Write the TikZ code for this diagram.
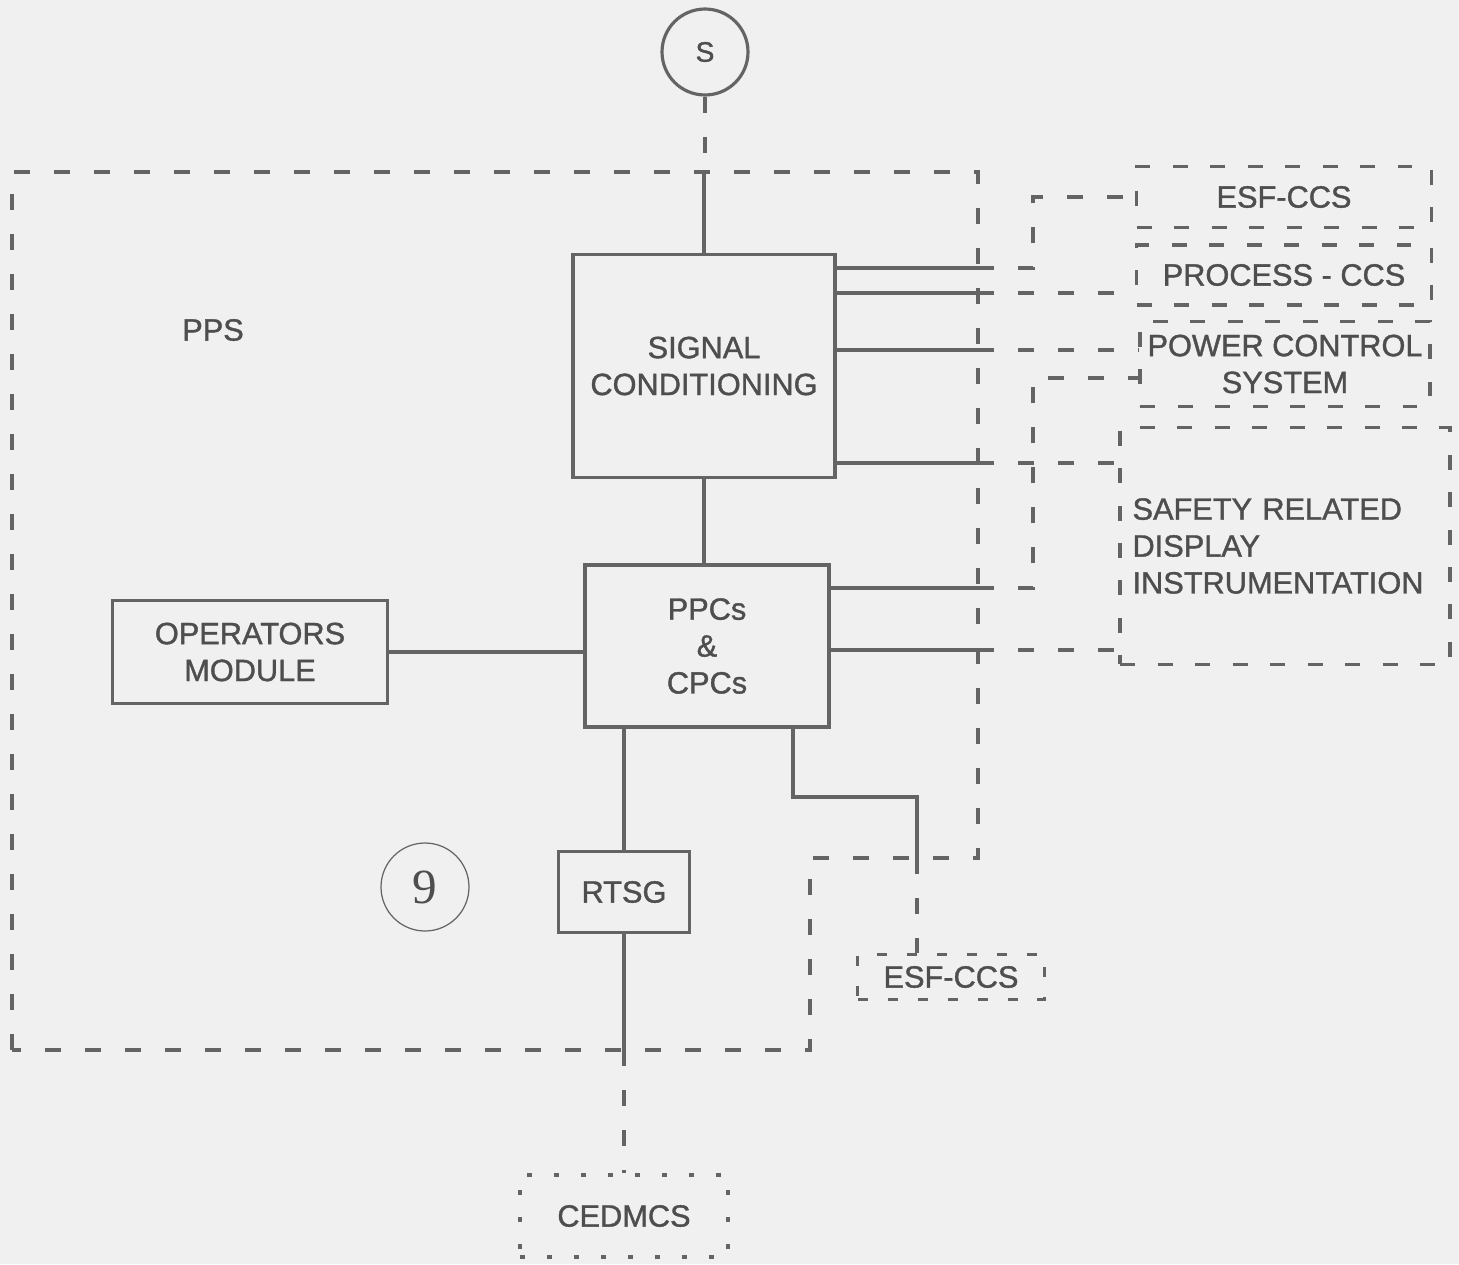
\documentclass[tikz,border=0pt]{standalone}
\usepackage{fontspec}
\setmainfont{Liberation Sans}[BoldFont={Liberation Sans}, BoldFeatures={FakeBold=1.2}]
\newfontfamily\ninefont{Liberation Serif}
\definecolor{bg}{RGB}{240,240,240}
\definecolor{ink}{RGB}{100,100,100}
\definecolor{txt}{RGB}{78,78,78}
\begin{document}
\begin{tikzpicture}[x=0.02cm,y=-0.02cm,
  lbl/.style={text=txt, align=center, font=\bfseries\fontsize{17.5}{21}\selectfont, inner sep=0pt},
  sbox/.style={lbl, draw=ink, line width=2.2pt},
  dbox/.style={lbl, draw=ink, line width=1.8pt, dash pattern=on 0.3cm off 0.45cm},
  dboxs/.style={lbl, draw=ink, line width=1.8pt, dash pattern=on 0.2cm off 0.4cm},
  dotbox/.style={lbl, draw=ink, line width=2pt, dash pattern=on 0.1cm off 0.44cm},
  conn/.style={draw=ink, line width=1.8pt},
  dconn/.style={conn, dash pattern=on 0.32cm off 0.48cm},
  ppsd/.style={draw=ink, line width=1.8pt, dash pattern=on 0.32cm off 0.48cm}
]
\fill[bg] (0,0) rectangle (1459,1264);
\useasboundingbox (0,0) rectangle (1459,1264);

% PPS boundary
\coordinate (p1) at (12,172);
\coordinate (p2) at (978,172);
\coordinate (p3) at (978,858);
\coordinate (p4) at (810,858);
\coordinate (p5) at (810,1050);
\coordinate (p6) at (12,1050);
\draw[ppsd] (p6) -- (p1) -- (p2) -- (p3) -- (p4) -- (p5) -- cycle;
\node[lbl] (pps) at (213,330) {PPS};

% nodes
\node[circle, draw=ink, line width=1.8pt, minimum size=1.72cm, inner sep=0pt, text=txt, font=\bfseries\fontsize{16}{18}\selectfont] (s) at (705,52) {S};
\node[sbox, minimum width=5.24cm, minimum height=4.46cm] (sc) at (704,366) {SIGNAL\\CONDITIONING};
\node[sbox, minimum width=4.88cm, minimum height=3.24cm] (ppc) at (707,646) {PPCs\\\&\\CPCs};
\node[sbox, minimum width=5.5cm, minimum height=2.06cm] (op) at (250,652) {OPERATORS\\MODULE};
\node[sbox, minimum width=2.62cm, minimum height=1.62cm] (rtsg) at (624,892) {RTSG};
\node[dotbox, minimum width=4.16cm, minimum height=1.64cm] (cedm) at (624,1216) {CEDMCS};
\node[dboxs, minimum width=3.74cm, minimum height=0.9cm] (esfb) at (951,977) {ESF-CCS};
\node[dbox, minimum width=5.9cm, minimum height=1.22cm] (esft) at (1284,197) {ESF-CCS};
\node[dbox, minimum width=5.9cm, minimum height=1.2cm] (proc) at (1284,275) {PROCESS - CCS};
\node[dbox, minimum width=5.8cm, minimum height=1.7cm] (pcs) at (1285,364) {POWER CONTROL\\SYSTEM};
\node[dbox, minimum width=6.6cm, minimum height=4.74cm, text width=6.1cm, align=left] (srd) at (1285,546) {SAFETY RELATED\\DISPLAY\\INSTRUMENTATION};
\node[circle, draw=ink, line width=0.7pt, minimum size=1.76cm, inner sep=0pt, text=txt, font=\ninefont\fontsize{28}{30}\selectfont] (nine) at (425,887) {9};

% vertical spine
\draw[dconn] (s.south) -- (s.south |- p1);
\draw[conn] (sc.north |- p1) -- (sc.north);
\draw[conn] (sc.south) -- (sc.south |- ppc.north);
\draw[conn] (op.east) -- (ppc.west |- op.east);
\draw[conn] (rtsg.north |- ppc.south) -- (rtsg.north);
\draw[conn] (rtsg.south) -- (rtsg.south |- p6);
\draw[dconn] (rtsg.south |- p6) -- (cedm.north);

% PPCs to lower ESF-CCS
\coordinate (k1) at (793,797);
\coordinate (k2) at (917,797);
\coordinate (k3) at (917,858);
\draw[conn] (ppc.south -| k1) -- (k1) -- (k2) -- (k3);
\draw[dconn] (k3) -- (esfb.north -| k3);

% right side connections
\coordinate (r1) at (978,268);
\coordinate (r2) at (978,293);
\coordinate (r3) at (978,350);
\coordinate (r4) at (978,463);
\coordinate (r5) at (978,588);
\coordinate (r6) at (978,650);
\coordinate (v1) at (1033,268);
\coordinate (v5) at (1033,588);
\coordinate (w5) at (1033,378);

\draw[conn] (sc.east |- r1) -- (r1);
\draw[dconn] (r1) -- (v1) -- (v1 |- esft.west) -- (esft.west);
\draw[conn] (sc.east |- r2) -- (r2);
\draw[dconn] (r2) -- (proc.west |- r2);
\draw[conn] (sc.east |- r3) -- (r3);
\draw[dconn] (r3) -- (pcs.west |- r3);
\draw[conn] (sc.east |- r4) -- (r4);
\draw[dconn] (r4) -- (srd.west |- r4);
\draw[conn] (ppc.east |- r5) -- (r5);
\draw[dconn] (r5) -- (v5) -- (w5) -- (pcs.west |- w5);
\draw[conn] (ppc.east |- r6) -- (r6);
\draw[dconn] (r6) -- (srd.west |- r6);
\end{tikzpicture}
\end{document}
